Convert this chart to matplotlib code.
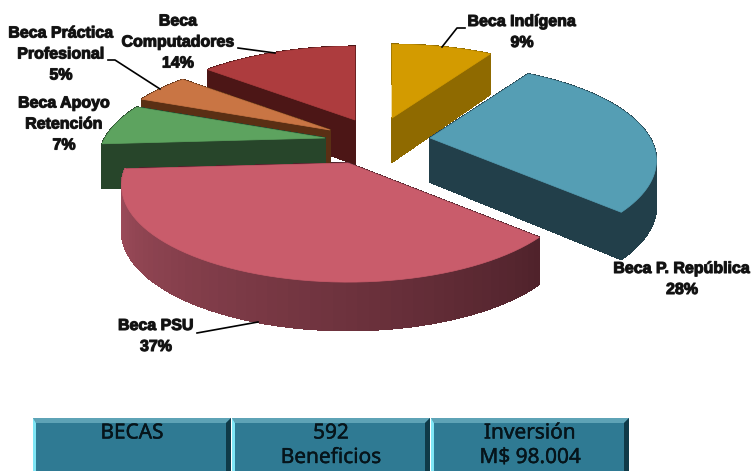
import numpy as np
import matplotlib
matplotlib.use("Agg")
import matplotlib.pyplot as plt
from matplotlib.patches import Polygon, Rectangle
import matplotlib.patheffects as pe

# data
becas = ["Beca Indígena", "Beca P. República", "Beca PSU", "Beca Apoyo\nRetención", "Beca Práctica\nProfesional", "Beca\nComputadores"]
porcentajes = [9, 28, 37, 7, 5, 14]
cajas = ["BECAS", "592\nBeneficios", "Inversión\nM$ 98.004"]

# look of each slice (same order as becas)
top_col = ["#d39b00", "#559eb4", "#c95c6b", "#5da35f", "#c97544", "#ad3c3e"]
cut_col = ["#8f6a00", "#223f4a", "#4f222b", "#27452a", "#5a2f14", "#4c1616"]
wall_l = ["#8f6a00", "#223f4a", "#a5505f", "#27452a", "#5a2f14", "#4c1616"]
wall_r = ["#8f6a00", "#223f4a", "#4f222b", "#27452a", "#5a2f14", "#4c1616"]
apex_x = [392, 430, 348, 325, 330, 355]
apex_y = [118, 138, 163, 138, 130, 120]
txt_x = [522, 682, 156, 64, 61, 178]
txt_y = [32, 279, 336, 124, 54, 42]
order = [5, 0, 1, 4, 3, 2]

# pie shape in pixels
rx, A, k = 220, 91, 0.236

def project(ang):
    u = np.sin(ang)
    v = -np.cos(ang)
    d = 1 - k * v
    return rx * u / d, A * v / d, 44 * (1 + 0.1 * v)

def mix(c1, c2, t):
    a = np.array(matplotlib.colors.to_rgb(c1))
    b = np.array(matplotlib.colors.to_rgb(c2))
    return tuple(a + (b - a) * t)

fig = plt.figure(figsize=(7.51, 4.71), dpi=100)
ax = fig.add_axes([0, 0, 1, 1])
ax.set_xlim(0, 751)
ax.set_ylim(471, 0)
ax.axis("off")

limits = np.cumsum([0] + porcentajes) / sum(porcentajes) * 2 * np.pi
for i in order:
    ang = np.linspace(limits[i], limits[i + 1], 60)
    x, y, z = project(ang)
    x = apex_x[i] + x
    y = apex_y[i] + y
    # walls, back to front
    quads = []
    for j in range(len(ang) - 1):
        t = (j + 0.5) / (len(ang) - 1)
        q = [(x[j], y[j]), (x[j + 1], y[j + 1]), (x[j + 1], y[j + 1] + z[j + 1]), (x[j], y[j] + z[j])]
        quads.append((y[j], q, mix(wall_r[i], wall_l[i], t)))
    for px, py, pz in [(x[0], y[0], z[0]), (x[-1], y[-1], z[-1])]:
        q = [(apex_x[i], apex_y[i]), (px, py), (px, py + pz), (apex_x[i], apex_y[i] + 44)]
        quads.append((apex_y[i], q, cut_col[i]))
    quads.sort(key=lambda a: a[0])
    for _, q, c in quads:
        ax.add_patch(Polygon(q, closed=True, fc=c, ec=c, lw=0.6, antialiased=False))
    pts = [(apex_x[i], apex_y[i])] + list(zip(x, y))
    ax.add_patch(Polygon(pts, closed=True, fc=top_col[i], ec=top_col[i], lw=0.5))

# leader lines
ax.plot([442, 457, 465], [47, 28, 28], color="black", lw=1.2)
ax.plot([238, 275], [48, 53], color="black", lw=1.2)
ax.plot([108, 115, 160], [60, 60, 89], color="black", lw=1.2)
ax.plot([197, 258], [333, 322], color="black", lw=1.2)

# labels
for i in range(len(becas)):
    ax.text(txt_x[i], txt_y[i], becas[i] + "\n" + str(porcentajes[i]) + "%", ha="center", va="center",
            family="Liberation Sans", fontweight="bold", fontsize=11.5, linespacing=1.5, color="#111111",
            path_effects=[pe.withStroke(linewidth=0.8, foreground="#222222")])

# boxes at the bottom
box_x = [33, 232, 431]
box_w = 198
for i in range(len(cajas)):
    x0 = box_x[i]
    ax.add_patch(Rectangle((x0, 418), box_w, 60, fc="#2f7a93", ec="none"))
    ax.add_patch(Polygon([(x0, 418), (x0 + box_w, 418), (x0 + box_w - 5, 423), (x0 + 3, 423)], fc="#5ea3b6", ec="none"))
    ax.add_patch(Polygon([(x0, 418), (x0 + 3, 423), (x0 + 3, 471), (x0, 471)], fc="#7fe6f5", ec="none"))
    ax.add_patch(Polygon([(x0 + box_w, 418), (x0 + box_w - 5, 423), (x0 + box_w - 5, 471), (x0 + box_w, 471)], fc="#0f3a48", ec="none"))
    lineas = cajas[i].split("\n")
    for n, t in enumerate(lineas):
        ax.text(x0 + box_w / 2, 433 + n * 24.5, t, ha="center", va="center", family="Noto Sans",
                fontsize=15, color="#06141a", path_effects=[pe.withStroke(linewidth=0.3, foreground="#06141a")])

fig.savefig("out.png", dpi=100)
